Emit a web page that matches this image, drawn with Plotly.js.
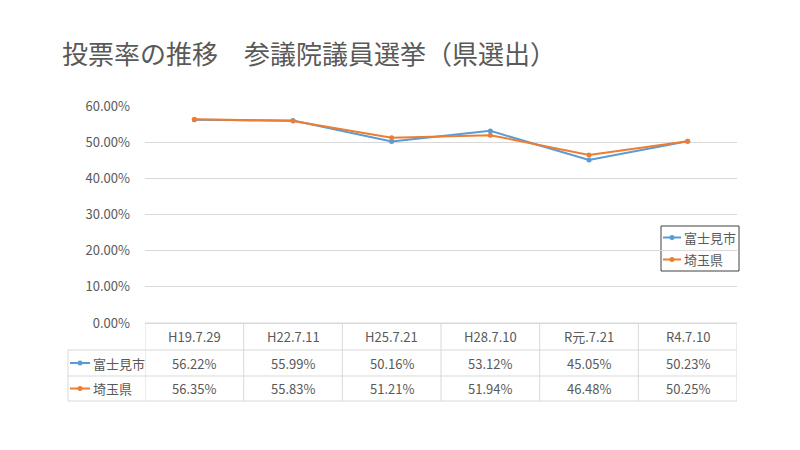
<!DOCTYPE html>
<html>
<head>
<meta charset="utf-8">
<script src="https://cdn.plot.ly/plotly-3.0.1.min.js"></script>
<style>html,body{margin:0;padding:0;background:#fff;}#chart{width:800px;height:450px;}</style>
</head>
<body>
<div id="chart"></div>
<script>
const categories = ["H19.7.29", "H22.7.11", "H25.7.21", "H28.7.10", "R元.7.21", "R4.7.10"];
const fujimi = [0.5622, 0.5599, 0.5016, 0.5312, 0.4505, 0.5023];
const saitama = [0.5635, 0.5583, 0.5121, 0.5194, 0.4648, 0.5025];
const seriesNames = ["富士見市", "埼玉県"];
const seriesColors = ["#5B9BD5", "#ED7D31"];
const seriesValues = [fujimi, saitama];

const FONT = "'Noto Sans CJK JP', 'Noto Sans', sans-serif";
const TXT = "#595959";
const GRID = "#D9D9D9";

// plot area geometry (px)
const L = 145, R = 737, T = 106, B = 323;
const W = R - L, H = B - T;
const px2paperX = p => (p - L) / W;
const px2paperY = p => (B - p) / H;

const traces = seriesValues.map((vals, i) => ({
  type: "scatter", mode: "lines+markers",
  x: categories, y: vals, name: seriesNames[i],
  line: {color: seriesColors[i], width: 2},
  marker: {color: seriesColors[i], size: 5}
}));

const rowCenters = [336.5, 363, 388.5];
const shapes = [];
const annotations = [];

// legend key helper (line + dot + label)
function key(xLeft, yc, s, lineLen) {
  const yP = px2paperY(yc);
  shapes.push({type: "line", xref: "paper", yref: "paper", x0: px2paperX(xLeft), x1: px2paperX(xLeft + lineLen), y0: yP, y1: yP, line: {color: seriesColors[s], width: 2}});
  const cx = xLeft + lineLen / 2;
  shapes.push({type: "circle", xref: "paper", yref: "paper", x0: px2paperX(cx - 2.5), x1: px2paperX(cx + 2.5), y0: px2paperY(yc + 2.5), y1: px2paperY(yc - 2.5), fillcolor: seriesColors[s], line: {width: 0}});
  annotations.push({x: px2paperX(xLeft + lineLen + 1), xref: "paper", y: yP, yref: "paper", text: seriesNames[s], showarrow: false, font: {family: FONT, size: 13, color: TXT}, xanchor: "left", yanchor: "middle"});
}

// horizontal table lines
shapes.push({type: "line", xref: "paper", yref: "paper", x0: 0, x1: 1, y0: px2paperY(323), y1: px2paperY(323), line: {color: GRID, width: 1}});
[350, 376, 401].forEach(yp => shapes.push({type: "line", xref: "paper", yref: "paper", x0: px2paperX(68), x1: 1, y0: px2paperY(yp), y1: px2paperY(yp), line: {color: GRID, width: 1}}));
// vertical table lines at category boundaries
for (let i = 0; i <= categories.length; i++) {
  shapes.push({type: "line", xref: "x", yref: "paper", x0: i - 0.5, x1: i - 0.5, y0: px2paperY(323), y1: px2paperY(401), line: {color: GRID, width: 1}});
}
shapes.push({type: "line", xref: "paper", yref: "paper", x0: px2paperX(68), x1: px2paperX(68), y0: px2paperY(350), y1: px2paperY(401), line: {color: GRID, width: 1}});

// header row
categories.forEach((c, i) => annotations.push({x: c, xref: "x", y: px2paperY(rowCenters[0]), yref: "paper", text: c, showarrow: false, font: {family: FONT, size: 13, color: TXT}, xanchor: "center", yanchor: "middle"}));
// data rows
seriesValues.forEach((vals, s) => {
  const yc = px2paperY(rowCenters[s + 1]);
  vals.forEach((v, i) => annotations.push({x: categories[i], xref: "x", y: yc, yref: "paper", text: (v * 100).toFixed(2) + "%", showarrow: false, font: {family: FONT, size: 13, color: TXT}, xanchor: "center", yanchor: "middle"}));
  key(70, rowCenters[s + 1], s, 20);
});

// chart legend box
shapes.push({type: "rect", xref: "paper", yref: "paper", layer: "below", x0: px2paperX(661), x1: px2paperX(739), y0: px2paperY(226), y1: px2paperY(271), fillcolor: "#fff", line: {color: "#404040", width: 1}});
key(663, 237.5, 0, 18);
key(663, 259.5, 1, 18);

const layout = {
  width: 800, height: 450,
  paper_bgcolor: "#fff", plot_bgcolor: "#fff",
  margin: {l: L, r: 800 - R, t: T, b: 450 - B, pad: 0},
  title: {text: "投票率の推移　参議院議員選挙（県選出）", font: {family: FONT, size: 26, color: TXT}, xref: "container", yref: "container", x: 62 / 800, xanchor: "left", y: 1 - 55 / 450, yanchor: "middle"},
  xaxis: {type: "category", range: [-0.5, categories.length - 0.5], showticklabels: false, showgrid: false, zeroline: false, showline: false, ticks: "", fixedrange: true},
  yaxis: {range: [0, 0.6], dtick: 0.1, tick0: 0, tickformat: ".2%", showgrid: true, gridcolor: GRID, gridwidth: 1, zeroline: true, zerolinecolor: GRID, zerolinewidth: 1, showline: false, ticks: "", ticklabelstandoff: 14, tickfont: {family: FONT, size: 13, color: TXT}, fixedrange: true},
  showlegend: false,
  shapes: shapes,
  annotations: annotations
};

Plotly.newPlot("chart", traces, layout, {displayModeBar: false, staticPlot: true});
</script>
</body>
</html>
